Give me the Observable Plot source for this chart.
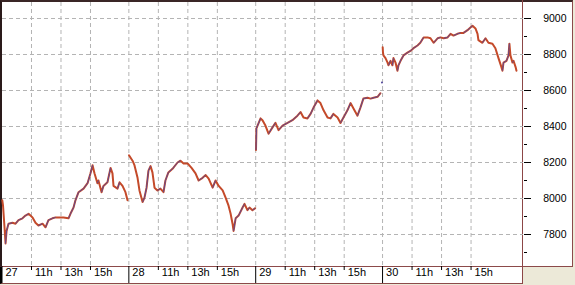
<!DOCTYPE html>
<html><head><meta charset="utf-8">
<script src="https://cdn.jsdelivr.net/npm/d3@7"></script>
<script src="https://cdn.jsdelivr.net/npm/@observablehq/plot@0.6"></script>
<style>
html,body{margin:0;padding:0;background:#ece9d8;}
#wrap{position:relative;width:575px;height:285px;background:#ece9d8;overflow:hidden;}
.abs{position:absolute;box-sizing:border-box;}
#panel{left:0;top:0;width:573px;height:267px;background:#fff;border-top:2px solid #3a2626;border-left:2px solid #2a1a1a;border-right:1px solid #8c4a4a;border-bottom:1px solid #8c4a4a;}
#band{left:0;top:267px;width:523px;height:17px;background:#fff;border-left:2px solid #000;border-bottom:1px solid #8c4a4a;}
#sep{left:522px;top:0;width:1px;height:284px;background:#8c4646;}
#chart{position:absolute;left:0;top:0;}
</style></head><body>
<div id="wrap">
<div class="abs" id="panel"></div>
<div class="abs" id="band"></div>
<div class="abs" id="sep"></div>
<div id="chart"></div>
</div>
<script>
// ---- data (time of day in hours, value) ----
const days = ["27", "28", "29", "30"];
const hourLabels = ["11h", "13h", "15h"];
const hourValues = [11, 13, 15];
const yMajor = [7800, 8000, 8200, 8400, 8600, 8800, 9000];
const yMinor = [7700, 7900, 8100, 8300, 8500, 8700, 8900];

const day27 = [[9.02,7990],[9.07,7960],[9.17,7840],[9.24,7750],[9.31,7820],[9.44,7860],[9.71,7865],[9.92,7860],[10.12,7880],[10.39,7890],[10.59,7905],[10.80,7915],[10.93,7905],[11.07,7895],[11.27,7865],[11.47,7850],[11.75,7860],[11.95,7840],[12.15,7880],[12.42,7890],[12.63,7895],[12.83,7895],[13.17,7895],[13.51,7890],[13.64,7915],[13.85,7950],[13.98,7990],[14.19,8035],[14.53,8055],[14.80,8085],[15.00,8140],[15.14,8185],[15.27,8140],[15.47,8085],[15.54,8100],[15.75,8035],[15.88,8070],[16.15,8090],[16.36,8170],[16.49,8140],[16.56,8070],[16.83,8055],[16.97,8090],[17.17,8070],[17.37,8035],[17.51,7990]];
const day28 = [[9.01,8240],[9.25,8210],[9.38,8185],[9.59,8115],[9.72,8045],[9.93,7980],[10.06,8005],[10.20,8060],[10.33,8155],[10.47,8180],[10.60,8145],[10.74,8060],[10.94,8045],[11.14,8055],[11.35,8035],[11.48,8100],[11.68,8145],[11.96,8165],[12.30,8200],[12.50,8210],[12.71,8195],[12.98,8195],[13.25,8170],[13.52,8140],[13.73,8100],[14.00,8115],[14.21,8130],[14.41,8110],[14.68,8060],[14.88,8100],[15.09,8070],[15.36,8045],[15.56,8005],[15.76,7960],[15.90,7915],[16.03,7860],[16.10,7820],[16.24,7890],[16.44,7905],[16.71,7950],[16.84,7970],[17.04,7935],[17.18,7950],[17.38,7935],[17.55,7945]];
const day29 = [[9.02,8270],[9.05,8390],[9.33,8445],[9.46,8435],[9.66,8405],[9.87,8360],[10.14,8395],[10.34,8420],[10.55,8380],[10.82,8405],[11.16,8420],[11.49,8435],[11.83,8460],[12.04,8480],[12.24,8450],[12.51,8445],[12.72,8470],[12.92,8505],[13.19,8545],[13.39,8530],[13.60,8490],[13.87,8450],[14.07,8445],[14.27,8470],[14.55,8450],[14.75,8420],[14.95,8450],[15.22,8490],[15.43,8530],[15.63,8500],[15.90,8460],[16.10,8505],[16.30,8555],[16.58,8560],[16.79,8555],[16.99,8560],[17.26,8565],[17.46,8585]];
const day29Last = [[17.56,8645]];
const day30 = [[9.01,8840],[9.03,8810],[9.06,8795],[9.20,8780],[9.34,8755],[9.40,8740],[9.54,8765],[9.67,8740],[9.74,8780],[9.88,8755],[10.01,8710],[10.08,8740],[10.22,8765],[10.42,8795],[10.69,8810],[10.89,8820],[11.10,8835],[11.37,8850],[11.56,8865],[11.78,8895],[12.05,8895],[12.25,8890],[12.46,8865],[12.73,8890],[12.93,8895],[13.14,8890],[13.41,8895],[13.61,8915],[13.81,8905],[14.08,8915],[14.29,8920],[14.49,8920],[14.76,8935],[14.96,8950],[15.10,8960],[15.30,8945],[15.44,8915],[15.50,8880],[15.77,8865],[15.98,8890],[16.18,8865],[16.45,8860],[16.65,8835],[16.86,8780],[17.06,8730],[17.13,8710],[17.20,8755],[17.40,8765],[17.54,8795],[17.60,8860],[17.67,8795],[17.81,8755],[17.88,8765],[18.02,8730],[18.08,8710]];

// ---- derived tables ----
const SESSION_START = 9, DAY_LEN = 8.6;
const series = [day27, day28, day29, day30];
const pos = (i, t) => i * DAY_LEN + (t - SESSION_START);
const pts = series.flatMap((arr, i) => arr.map(([t, v]) => ({day: days[i], x: pos(i, t), v})));
const lone = day29Last.map(([t, v]) => ({x: pos(2, t), v}));
const segs = [];
series.forEach((arr, i) => {
  for (let k = 1; k < arr.length; k++) {
    const a = arr[k - 1], b = arr[k];
    segs.push({x1: pos(i, a[0]), y1: a[1], x2: pos(i, b[0]), y2: b[1], up: b[1] > a[1]});
  }
});
const dayTicks = days.map((d, i) => ({x: pos(i, SESSION_START), label: d}));
const hourTicks = days.flatMap((d, i) => hourValues.map((h, j) => ({x: pos(i, h), label: hourLabels[j]})));
const dayX = dayTicks.map(d => d.x);
const hourX = hourTicks.map(d => d.x);
const FONT = "Liberation Sans, Arial, sans-serif";

const chart = Plot.plot({
  width: 575, height: 285,
  marginLeft: 2, marginTop: 2, marginRight: 52, marginBottom: 19,
  x: {domain: [0, 35.356], range: [1.5, 523], axis: null},
  y: {domain: [7800, 9000], range: [234, 18], axis: null},
  style: {background: "transparent", overflow: "visible"},
  marks: [
    Plot.gridY(yMajor, {stroke: "#b4b4b4", strokeOpacity: 1, strokeDasharray: "4,3"}),
    Plot.gridX([...dayX.slice(1), ...hourX], {stroke: "#b4b4b4", strokeOpacity: 1, strokeDasharray: "4,3"}),
    Plot.line(pts, {x: "x", y: "v", z: "day", stroke: "#c44a2a", strokeWidth: 2}),
    Plot.link(segs.filter(s => s.up), {x1: "x1", y1: "y1", x2: "x2", y2: "y2", stroke: "#54489c", strokeWidth: 0.9}),
    Plot.dot(lone, {x: "x", y: "v", r: 1, fill: "#54489c", stroke: null}),
    Plot.axisX(hourX, {anchor: "bottom", tickSize: 4, stroke: "#000", fill: "none", tickFormat: () => ""}),
    Plot.axisX(dayX, {anchor: "bottom", tickSize: 17, stroke: "#000", fill: "none", tickFormat: () => ""}),
    Plot.text([...dayTicks, ...hourTicks], {x: "x", text: "label", frameAnchor: "bottom", dy: 9, dx: 3.5, textAnchor: "start", fontSize: 11, fontFamily: FONT, fill: "#000"}),
    Plot.axisY(yMajor, {anchor: "right", tickSize: 7, stroke: "#000", fill: "none", tickFormat: () => ""}),
    Plot.axisY(yMinor, {anchor: "right", tickSize: 3, stroke: "#000", fill: "none", tickFormat: () => ""}),
    Plot.text(yMajor, {y: d => d, text: d => String(d), frameAnchor: "right", dx: 43, textAnchor: "end", fontSize: 10.5, fontFamily: FONT, fill: "#000"})
  ]
});
document.getElementById("chart").appendChild(chart);
</script>
</body></html>
